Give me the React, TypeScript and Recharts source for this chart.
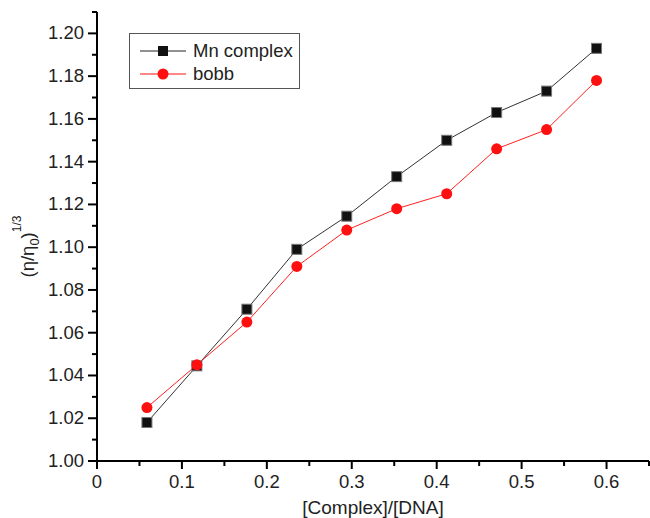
import { Line, LineChart, XAxis, YAxis } from "recharts";

const ratio = [0.0588, 0.1176, 0.1765, 0.2353, 0.2941, 0.3529, 0.4118, 0.4706, 0.5294, 0.5882];
const mnComplex = [1.018, 1.0445, 1.071, 1.099, 1.1145, 1.133, 1.15, 1.163, 1.173, 1.193];
const bobb = [1.025, 1.045, 1.065, 1.091, 1.108, 1.118, 1.125, 1.146, 1.155, 1.178];

const xTicks = [0, 0.05, 0.1, 0.15, 0.2, 0.25, 0.3, 0.35, 0.4, 0.45, 0.5, 0.55, 0.6, 0.65];
const yTicks = [
  1.0, 1.01, 1.02, 1.03, 1.04, 1.05, 1.06, 1.07, 1.08, 1.09, 1.1, 1.11, 1.12, 1.13, 1.14,
  1.15, 1.16, 1.17, 1.18, 1.19, 1.2, 1.21,
];

const data = ratio.map((r, i) => ({ r, mn: mnComplex[i], bobb: bobb[i] }));

const FONT = "'Liberation Sans', Arial, sans-serif";
const TXT = "#222";

function XTick(props: any) {
  const { x, y, payload } = props;
  const v = payload.value as number;
  const major = Math.round(v * 100) % 10 === 0;
  return (
    <g>
      <line x1={x} y1={y} x2={x} y2={y + (major ? 8 : 5)} stroke="#000" strokeWidth={2} />
      {major && (
        <text x={x} y={y + 27} textAnchor="middle" fontSize={18.5} fontFamily={FONT} fill={TXT}>
          {v === 0 ? "0" : v.toFixed(1)}
        </text>
      )}
    </g>
  );
}

function YTick(props: any) {
  const { x, y, payload } = props;
  const v = payload.value as number;
  const major = Math.round(v * 100) % 2 === 0;
  return (
    <g>
      <line x1={x} y1={y} x2={x - (major ? 9 : 5)} y2={y} stroke="#000" strokeWidth={2} />
      {major && (
        <text x={x - 13} y={y + 6} textAnchor="end" fontSize={18.5} fontFamily={FONT} fill={TXT}>
          {v.toFixed(2)}
        </text>
      )}
    </g>
  );
}

function SquareDot(props: any) {
  const { cx, cy } = props;
  return <rect x={cx - 5} y={cy - 5} width={10} height={10} fill="#111" stroke="#777" strokeWidth={1} />;
}

function RoundDot(props: any) {
  const { cx, cy } = props;
  return <circle cx={cx} cy={cy} r={5.5} fill="#ff1010" />;
}

function LegendBox() {
  const rows = [
    { name: "Mn complex", color: "#222", square: true },
    { name: "bobb", color: "#ff1010", square: false },
  ];
  return (
    <div
      style={{
        position: "absolute",
        left: 129,
        top: 33,
        border: "1.5px solid #555",
        width: 171,
        height: 56,
        boxSizing: "border-box",
        padding: "5px 0 0 9px",
        fontFamily: FONT,
        fontSize: 18.5,
        color: TXT,
        background: "#fff",
      }}
    >
      {rows.map((r) => (
        <div key={r.name} style={{ display: "flex", alignItems: "center", height: 23 }}>
          <svg width={50} height={14} style={{ marginRight: 4 }}>
            <line x1={1} y1={7} x2={47} y2={7} stroke={r.color} strokeWidth={1} />
            {r.square ? (
              <rect x={19} y={2} width={10} height={10} fill="#111" />
            ) : (
              <circle cx={24} cy={7} r={5.5} fill={r.color} />
            )}
          </svg>
          <span>{r.name}</span>
        </div>
      ))}
    </div>
  );
}

function YLabel(props: any) {
  const { viewBox } = props;
  const cx = viewBox.x + 34;
  const cy = viewBox.y + viewBox.height / 2 + 10;
  return (
    <text
      x={cx}
      y={cy}
      transform={`rotate(-90, ${cx}, ${cy})`}
      textAnchor="middle"
      fontSize={18.5}
      fontFamily={FONT}
      fill={TXT}
    >
      <tspan>(η/η</tspan>
      <tspan fontSize={13} dy={5}>0</tspan>
      <tspan dy={-5}>)</tspan>
      <tspan fontSize={12} dy={-13}>1/3</tspan>
    </text>
  );
}

function XLabel(props: any) {
  const { viewBox } = props;
  return (
    <text
      x={viewBox.x + viewBox.width / 2}
      y={viewBox.y + 53}
      textAnchor="middle"
      fontSize={19}
      fontFamily={FONT}
      fill={TXT}
    >
      [Complex]/[DNA]
    </text>
  );
}

export default function App() {
  return (
    <div style={{ position: "absolute", left: 0, top: 0, width: 650, height: 518, background: "#fff" }}>
      <LineChart width={650} height={518} data={data} margin={{ top: 12, right: 1, bottom: 0, left: 0 }}>
        <XAxis
          dataKey="r"
          type="number"
          domain={[0, 0.65]}
          ticks={xTicks}
          interval={0}
          height={57}
          tickSize={0}
          tickMargin={0}
          tickLine={false}
          axisLine={{ stroke: "#000", strokeWidth: 2 }}
          tick={<XTick />}
          label={<XLabel />}
        />
        <YAxis
          type="number"
          domain={[1.0, 1.21]}
          ticks={yTicks}
          interval={0}
          width={97}
          tickSize={0}
          tickMargin={0}
          tickLine={false}
          axisLine={{ stroke: "#000", strokeWidth: 2 }}
          tick={<YTick />}
          label={<YLabel />}
        />
        <Line
          dataKey="mn"
          stroke="#333"
          strokeWidth={1}
          dot={<SquareDot />}
          isAnimationActive={false}
        />
        <Line
          dataKey="bobb"
          stroke="#ff2020"
          strokeWidth={1}
          dot={<RoundDot />}
          isAnimationActive={false}
        />
      </LineChart>
      <LegendBox />
    </div>
  );
}
